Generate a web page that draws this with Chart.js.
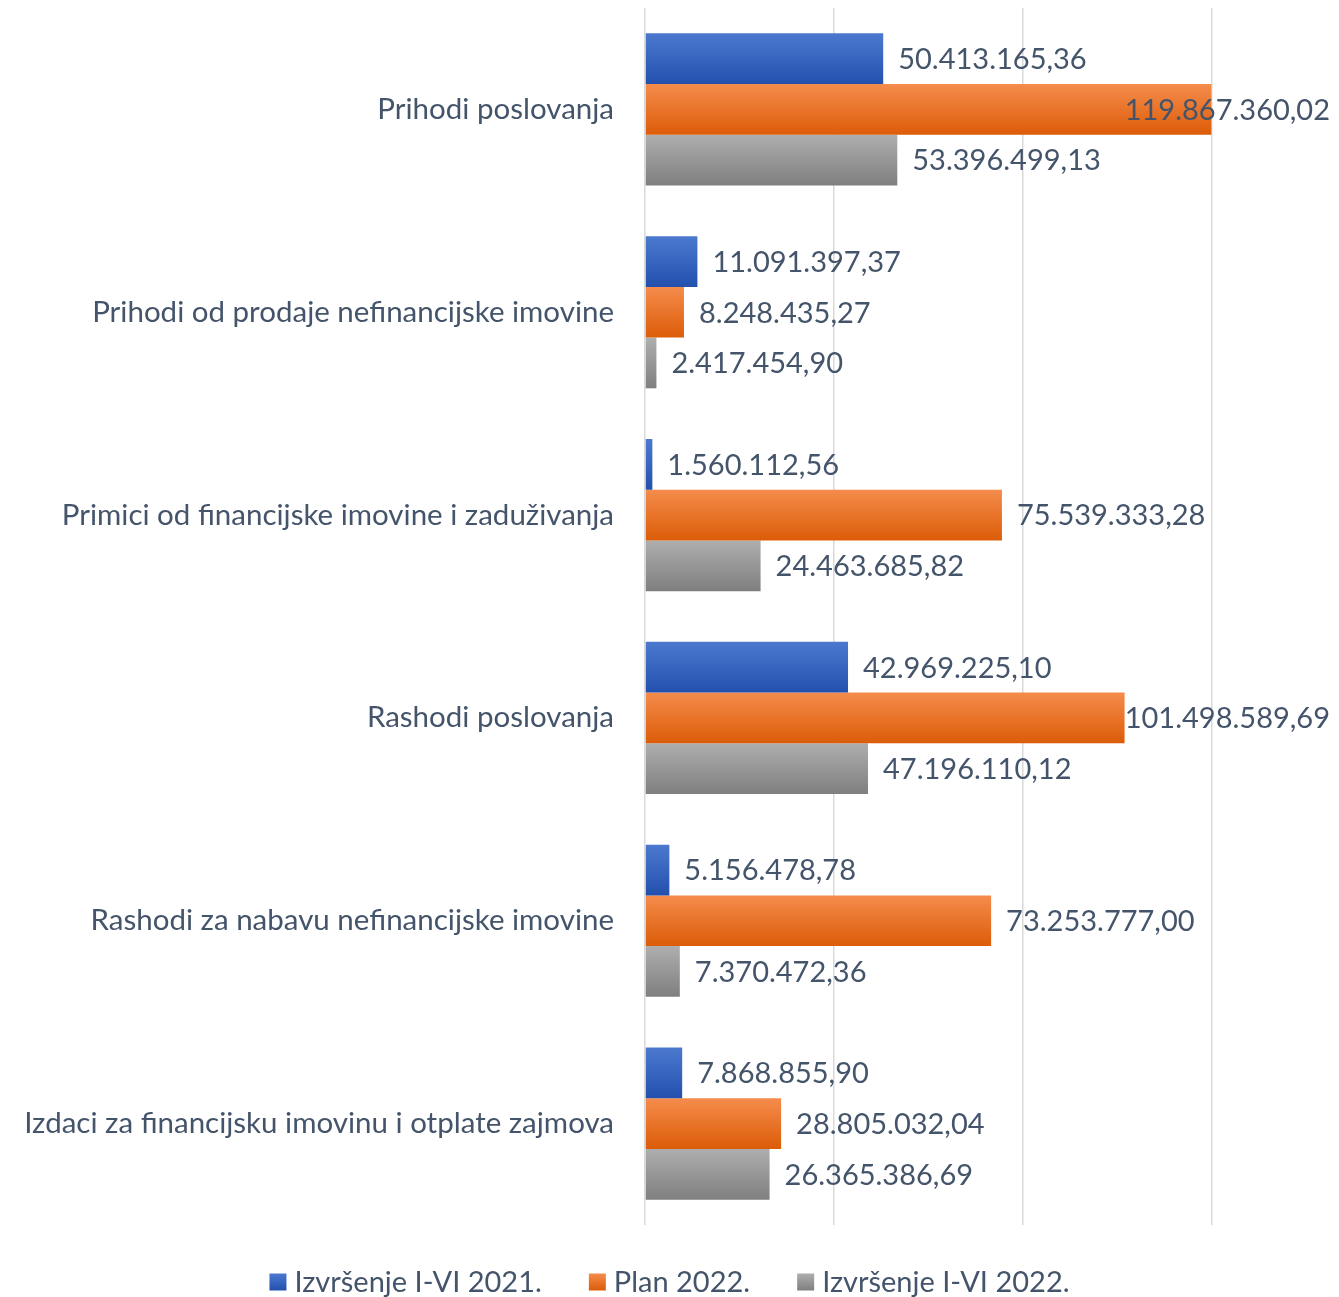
<!DOCTYPE html>
<html><head><meta charset="utf-8">
<script src="https://cdn.jsdelivr.net/npm/chart.js@4/dist/chart.umd.min.js"></script>
<style>html,body{margin:0;padding:0;background:#fff}#wrap{width:1339px;height:1297px}</style>
</head><body><div id="wrap"><canvas id="c" width="1339" height="1297"></canvas></div>
<script>
const categories = [
  "Prihodi poslovanja",
  "Prihodi od prodaje nefinancijske imovine",
  "Primici od financijske imovine i zaduživanja",
  "Rashodi poslovanja",
  "Rashodi za nabavu nefinancijske imovine",
  "Izdaci za financijsku imovinu i otplate zajmova"
];
const seriesNames = ["Izvršenje I-VI 2021.", "Plan 2022.", "Izvršenje I-VI 2022."];
const izvrsenje2021 = [50413165.36, 11091397.37, 1560112.56, 42969225.10, 5156478.78, 7868855.90];
const plan2022 = [119867360.02, 8248435.27, 75539333.28, 101498589.69, 73253777.00, 28805032.04];
const izvrsenje2022 = [53396499.13, 2417454.90, 24463685.82, 47196110.12, 7370472.36, 26365386.69];

const FONT = "Lato";
const TXT = "#44546A";
const grads = [["#4C79CF", "#2350AE"], ["#F58C4C", "#DC5C08"], ["#AEAEAE", "#7F7F7F"]];
const mids = ["#3563BF", "#EC7124", "#979797"];
const CAT_PCT = 0.75;

function fmt(v) {
  const s = v.toFixed(2);
  const [i, d] = s.split(".");
  return i.replace(/\B(?=(\d{3})+(?!\d))/g, ".") + "," + d;
}

function barGradient(ctx) {
  const chart = ctx.chart;
  const ys = chart.scales && chart.scales.y;
  if (!chart.chartArea || !ys || ctx.dataIndex === undefined) return mids[ctx.datasetIndex];
  const band = chart.chartArea.height / categories.length;
  const bh = band * CAT_PCT / 3;
  const yc = ys.getPixelForValue(ctx.dataIndex);
  const top = yc - band * CAT_PCT / 2 + ctx.datasetIndex * bh;
  const g = chart.ctx.createLinearGradient(0, top, 0, top + bh);
  g.addColorStop(0, grads[ctx.datasetIndex][0]);
  g.addColorStop(1, grads[ctx.datasetIndex][1]);
  return g;
}

const valueLabels = {
  id: "valueLabels",
  afterDatasetsDraw(chart) {
    const c = chart.ctx;
    c.save();
    c.font = "29px " + FONT;
    c.fillStyle = TXT;
    c.textBaseline = "middle";
    c.textAlign = "left";
    chart.data.datasets.forEach((ds, di) => {
      const meta = chart.getDatasetMeta(di);
      meta.data.forEach((el, i) => {
        const t = fmt(ds.data[i]);
        const w = c.measureText(t).width;
        const x = Math.min(el.x + 15, chart.width - 9 - w);
        c.fillText(t, x, el.y + 1);
      });
    });
    c.restore();
  }
};

const customLegend = {
  id: "customLegend",
  afterDraw(chart) {
    const c = chart.ctx;
    c.save();
    c.font = "29px " + FONT;
    c.textBaseline = "middle";
    c.textAlign = "left";
    const box = 17, gapBox = 8, gapItem = 47;
    const widths = seriesNames.map(n => c.measureText(n).width);
    const total = widths.reduce((a, w) => a + box + gapBox + w, 0) + gapItem * (seriesNames.length - 1);
    let x = (chart.width - total) / 2;
    const yc = 1282;
    seriesNames.forEach((n, i) => {
      const g = c.createLinearGradient(0, yc - box / 2, 0, yc + box / 2);
      g.addColorStop(0, grads[i][0]);
      g.addColorStop(1, grads[i][1]);
      c.fillStyle = g;
      c.fillRect(x, yc - box / 2, box, box);
      x += box + gapBox;
      c.fillStyle = TXT;
      c.fillText(n, x, yc + 1);
      x += widths[i] + gapItem;
    });
    c.restore();
  }
};

const series = [izvrsenje2021, plan2022, izvrsenje2022];
new Chart(document.getElementById("c"), {
  type: "bar",
  data: {
    labels: categories,
    datasets: series.map((d, i) => ({
      label: seriesNames[i],
      data: d,
      backgroundColor: barGradient,
      borderWidth: 0,
      categoryPercentage: CAT_PCT,
      barPercentage: 1
    }))
  },
  options: {
    indexAxis: "y",
    responsive: false,
    animation: false,
    layout: { padding: { left: 0, right: 127, top: 8, bottom: 72 } },
    scales: {
      x: {
        min: 0, max: 120000000,
        ticks: { display: false, stepSize: 40000000 },
        grid: { color: "#D9D9D9", lineWidth: 1.5, drawTicks: false },
        border: { display: false },
        afterFit(scale) { scale.height = 0; scale.paddingLeft = 0; scale.paddingRight = 0; }
      },
      y: {
        grid: { display: false, drawTicks: false },
        border: { display: false },
        ticks: { color: TXT, font: { family: FONT, size: 29.5 }, padding: 31, crossAlign: "near" },
        afterFit(scale) { scale.width = 645; scale.paddingTop = 0; scale.paddingBottom = 0; }
      }
    },
    plugins: {
      legend: { display: false },
      tooltip: { enabled: false }
    }
  },
  plugins: [valueLabels, customLegend]
});
</script>
</body></html>
